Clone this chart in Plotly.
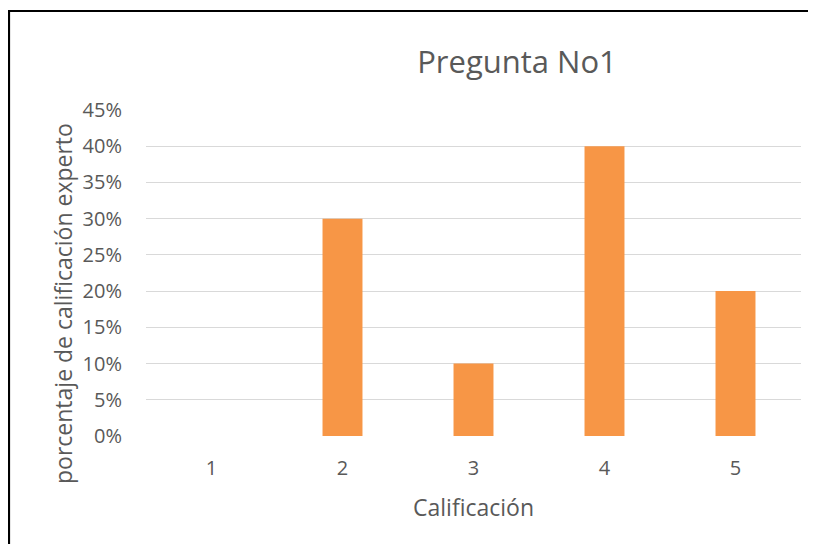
import plotly.graph_objects as go

categories = ["1", "2", "3", "4", "5"]
values = [0.0, 0.30, 0.10, 0.40, 0.20]
y_ticks = [0, 0.05, 0.10, 0.15, 0.20, 0.25, 0.30, 0.35, 0.40, 0.45]
y_tick_labels = ["0%", "5%", "10%", "15%", "20%", "25%", "30%", "35%", "40%", "45%"]

# page body has an 8px margin on every side; keep the figure inside the window
OFF = 8
W, H = 816 - 2 * OFF, 552 - 2 * OFF
L, T = 146 - OFF, 110 - OFF
R = W - (801 - OFF)
B = H - (436 - OFF)
pw, ph = W - L - R, H - T - B

def px2x(px):
    return (px - OFF - L) / pw

def py2y(py):
    return 1 - (py - OFF - T) / ph

font_fam = "Open Sans"
txt = "#595959"

fig = go.Figure()
fig.add_trace(go.Bar(
    x=categories, y=values,
    marker=dict(color="#F79646", line=dict(width=0)),
    width=0.305,
))

frame = dict(color="black", width=2.2)

fig.update_layout(
    width=W, height=H,
    margin=dict(l=L, r=R, t=T, b=B, autoexpand=False),
    paper_bgcolor="white", plot_bgcolor="white",
    showlegend=False,
    font=dict(family=font_fam, color=txt, size=20),
    title=dict(text="Pregunta No1", x=(517 - OFF) / W, xanchor="center",
               y=1 - (62 - OFF) / H, yanchor="middle",
               font=dict(size=31, color=txt, family=font_fam)),
    xaxis=dict(type="category", showgrid=False, zeroline=False, showline=False, ticks="",
               tickfont=dict(size=20, color=txt), ticklabelstandoff=18,
               title=dict(text="Calificación", font=dict(size=23, color=txt), standoff=19)),
    yaxis=dict(range=[0, 0.45], tickvals=y_ticks, ticktext=y_tick_labels,
               showgrid=True, gridcolor="#D9D9D9", gridwidth=1.3, zeroline=False,
               showline=False, ticks="", tickfont=dict(size=20, color=txt),
               ticklabelstandoff=23),
    annotations=[
        dict(text="porcentaje de calificación experto", textangle=-90,
             xref="paper", yref="paper", x=px2x(63), y=py2y(304),
             xanchor="center", yanchor="middle", showarrow=False,
             font=dict(size=23, color=txt, family=font_fam)),
    ],
    shapes=[
        dict(type="line", xref="paper", yref="paper",
             x0=px2x(8), x1=px2x(830), y0=py2y(11), y1=py2y(11), line=frame),
        dict(type="line", xref="paper", yref="paper",
             x0=px2x(9), x1=px2x(9), y0=py2y(10), y1=py2y(570), line=frame),
    ],
)

fig.write_html("out.html")
